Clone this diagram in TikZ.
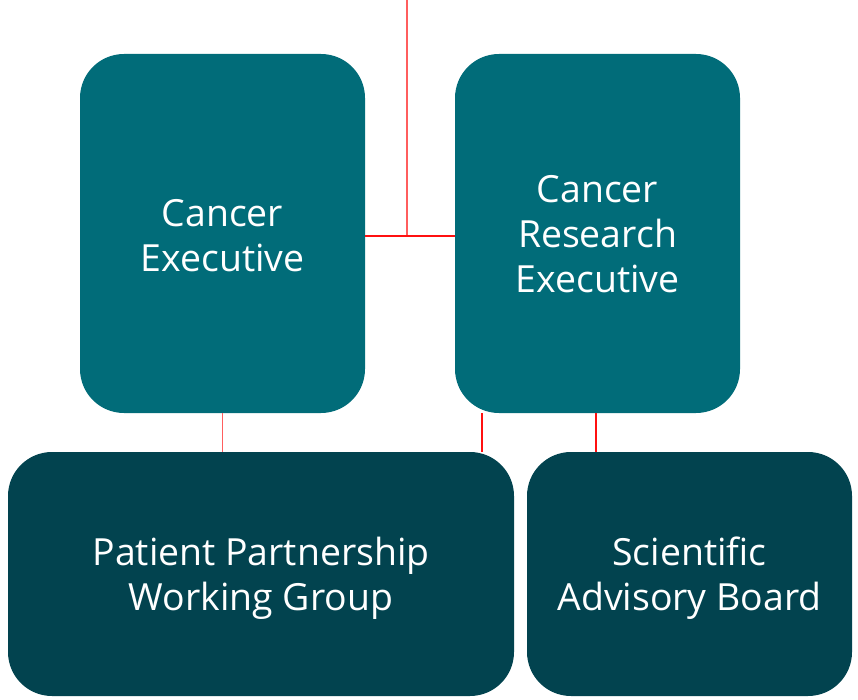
\documentclass[tikz,border=0pt]{standalone}
\usepackage{fontspec}
\setmainfont{Open Sans}
\definecolor{topteal}{HTML}{016C79}
\definecolor{darkteal}{HTML}{02434F}
\definecolor{lightred}{HTML}{FF5E5E}
\definecolor{purered}{HTML}{FF1010}
\newcommand{\boxtext}[1]{\begin{tabular}{@{}c@{}}#1\end{tabular}}
\begin{document}
\begin{tikzpicture}[x=1pt,y=-1pt,
  box/.style={rectangle, rounded corners=44pt, inner sep=0pt},
  topbox/.style={box, fill=topteal, minimum width=285pt, minimum height=359pt},
  botbox/.style={box, fill=darkteal, minimum height=244pt},
  boxlabel/.style={inner sep=0pt, text=white, font=\fontsize{37.4}{45}\selectfont},
  linka/.style={draw=lightred, line width=1.6pt},
  linkb/.style={draw=purered, line width=1.6pt}]
\useasboundingbox (0,0) rectangle (858,700);
\node[topbox] (ce) at (222.5,233.5) {};
\node[topbox] (cre) at (597.5,233.5) {};
\node[botbox, minimum width=506pt] (ppwg) at (261,574) {};
\node[botbox, minimum width=325pt] (sab) at (689.5,574) {};
\node[boxlabel] (ce-t) at ([yshift=-7pt]ce.center) {\boxtext{Cancer\\Executive}};
\node[boxlabel] (cre-t) at ([yshift=-5pt]cre.center) {\boxtext{Cancer\\Research\\Executive}};
\node[boxlabel] (ppwg-t) at ([yshift=-5pt]ppwg.center) {\boxtext{Patient Partnership\\Working Group}};
\node[boxlabel] (sab-t) at ([yshift=-5pt]sab.center) {\boxtext{Scientific\\Advisory Board}};
\coordinate (top) at (407,0);
\coordinate (j) at (407,236);
\coordinate (m) at (482,0);
\draw[linka] (top) -- (j);
\draw[linkb] (ce.east |- j) -- (cre.west |- j);
\draw[linka] (ce.south) -- (ce.south |- ppwg.north);
\draw[linkb] (cre.south -| m) -- (ppwg.north -| m);
\draw[linkb] ([xshift=-1.5pt]cre.south) -- ([xshift=-1.5pt]cre.south |- sab.north);
\end{tikzpicture}
\end{document}
